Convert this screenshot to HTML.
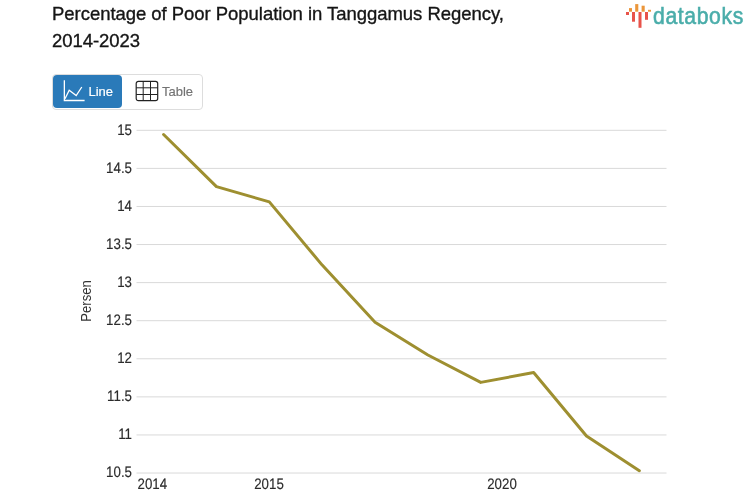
<!DOCTYPE html>
<html><head><meta charset="utf-8">
<style>
html,body{margin:0;padding:0;background:#fff;width:753px;height:498px;overflow:hidden;}
body{position:relative;font-family:"Liberation Sans",sans-serif;-webkit-font-smoothing:antialiased;}
.title{position:absolute;left:52px;top:0px;font-size:18.5px;line-height:27px;color:#151515;-webkit-text-stroke:0.35px #151515;letter-spacing:-0.04px;width:560px;white-space:nowrap;}
.btns{position:absolute;left:52px;top:74px;width:149px;height:34px;border:1px solid #dddddd;border-radius:4px;}
.bline{position:absolute;left:0px;top:0px;width:69px;height:33px;background:#2a7ab9;border-radius:4px;}
.t1{position:absolute;left:35.5px;top:9px;font-size:13px;color:#fff;-webkit-text-stroke:0.2px #fff;}
.t2{position:absolute;left:109px;top:9px;font-size:13px;color:#737373;-webkit-text-stroke:0.15px #737373;}
svg text{font-family:"Liberation Sans",sans-serif;}
</style></head><body>
<div id="wrap" style="position:absolute;left:0;top:0;width:753px;height:498px;will-change:transform">
<div class="title">Percentage of Poor Population in Tanggamus Regency,<br>2014-2023</div>
<svg width="753" height="498" style="position:absolute;left:0;top:0">
<g fill="#e8534a">
<rect x="626" y="12" width="3" height="3"/>
<rect x="632" y="12" width="3" height="9.7"/>
<rect x="638.5" y="12" width="3" height="15.8"/>
<rect x="645" y="12" width="3" height="7.8"/>
</g>
<g fill="#eb963a">
<rect x="629" y="8.1" width="3" height="3.6"/>
<rect x="635.2" y="4.1" width="3.1" height="7.6"/>
<rect x="641.6" y="5.7" width="3.1" height="6"/>
<rect x="648" y="9.8" width="3" height="1.9"/>
</g>
<text transform="translate(653,24) scale(0.9,1)" letter-spacing="0.7" font-size="23.5" fill="#4aadaa" stroke="#4aadaa" stroke-width="0.6">databoks</text>
<g font-size="14" fill="#2b2b2b" stroke="#2b2b2b" stroke-width="0.15" text-rendering="geometricPrecision">
<line x1="136.5" x2="666.5" y1="130.30" y2="130.30" stroke="#d9d9d9" stroke-width="1"/>
<text transform="translate(132,134.60) scale(0.95,1.08)" text-anchor="end">15</text>
<line x1="136.5" x2="666.5" y1="168.38" y2="168.38" stroke="#d9d9d9" stroke-width="1"/>
<text transform="translate(132,172.68) scale(0.95,1.08)" text-anchor="end">14.5</text>
<line x1="136.5" x2="666.5" y1="206.46" y2="206.46" stroke="#d9d9d9" stroke-width="1"/>
<text transform="translate(132,210.76) scale(0.95,1.08)" text-anchor="end">14</text>
<line x1="136.5" x2="666.5" y1="244.54" y2="244.54" stroke="#d9d9d9" stroke-width="1"/>
<text transform="translate(132,248.84) scale(0.95,1.08)" text-anchor="end">13.5</text>
<line x1="136.5" x2="666.5" y1="282.62" y2="282.62" stroke="#d9d9d9" stroke-width="1"/>
<text transform="translate(132,286.92) scale(0.95,1.08)" text-anchor="end">13</text>
<line x1="136.5" x2="666.5" y1="320.70" y2="320.70" stroke="#d9d9d9" stroke-width="1"/>
<text transform="translate(132,325.00) scale(0.95,1.08)" text-anchor="end">12.5</text>
<line x1="136.5" x2="666.5" y1="358.78" y2="358.78" stroke="#d9d9d9" stroke-width="1"/>
<text transform="translate(132,363.08) scale(0.95,1.08)" text-anchor="end">12</text>
<line x1="136.5" x2="666.5" y1="396.86" y2="396.86" stroke="#d9d9d9" stroke-width="1"/>
<text transform="translate(132,401.16) scale(0.95,1.08)" text-anchor="end">11.5</text>
<line x1="136.5" x2="666.5" y1="434.94" y2="434.94" stroke="#d9d9d9" stroke-width="1"/>
<text transform="translate(132,439.24) scale(0.95,1.08)" text-anchor="end">11</text>
<line x1="136.5" x2="666.5" y1="473.02" y2="473.02" stroke="#d9d9d9" stroke-width="1"/>
<text transform="translate(132,477.32) scale(0.95,1.08)" text-anchor="end">10.5</text>

</g>
<text transform="translate(91.4,301) rotate(-90) scale(0.9,1)" text-anchor="middle" font-size="14.5" fill="#333">Persen</text>
<g font-size="14" fill="#2b2b2b" stroke="#2b2b2b" stroke-width="0.15" text-rendering="geometricPrecision">
<text transform="translate(137.5,488.6) scale(0.95,1.08)">2014</text>
<text transform="translate(269,488.6) scale(0.95,1.08)" text-anchor="middle">2015</text>
<text transform="translate(502,488.6) scale(0.95,1.08)" text-anchor="middle">2020</text>
</g>
<polyline points="163.60,134.49 216.46,186.66 269.32,201.89 322.18,265.10 375.04,322.22 427.90,354.97 480.76,382.39 533.62,372.49 586.48,436.08 639.34,470.74" fill="none" stroke="#9e8f30" stroke-width="3" stroke-linejoin="round" stroke-linecap="round"/>
</svg>
<div class="btns">
<div class="bline">
<svg width="24" height="24" style="position:absolute;left:10px;top:5px" viewBox="0 0 24 24">
<path d="M1.35 0.2 V20.5 H21.6" fill="none" stroke="#fff" stroke-width="1.3"/>
<path d="M2 18.7 L6.2 10.2 L13.2 15.5 L18.8 7" fill="none" stroke="#fff" stroke-width="1.3"/>
</svg>
<div class="t1">Line</div>
</div>
<svg width="24" height="24" style="position:absolute;left:82px;top:5px" viewBox="0 0 24 24">
<rect x="1.2" y="1.4" width="21.5" height="19.3" rx="2.2" fill="none" stroke="#222" stroke-width="1.2"/>
<path d="M8.2 1.4 V20.7 M15.5 1.4 V20.7 M1.2 7.8 H22.7 M1.2 14.5 H22.7" stroke="#222" stroke-width="1.0"/>
</svg>
<div class="t2">Table</div>
</div>
</div>
</body></html>
